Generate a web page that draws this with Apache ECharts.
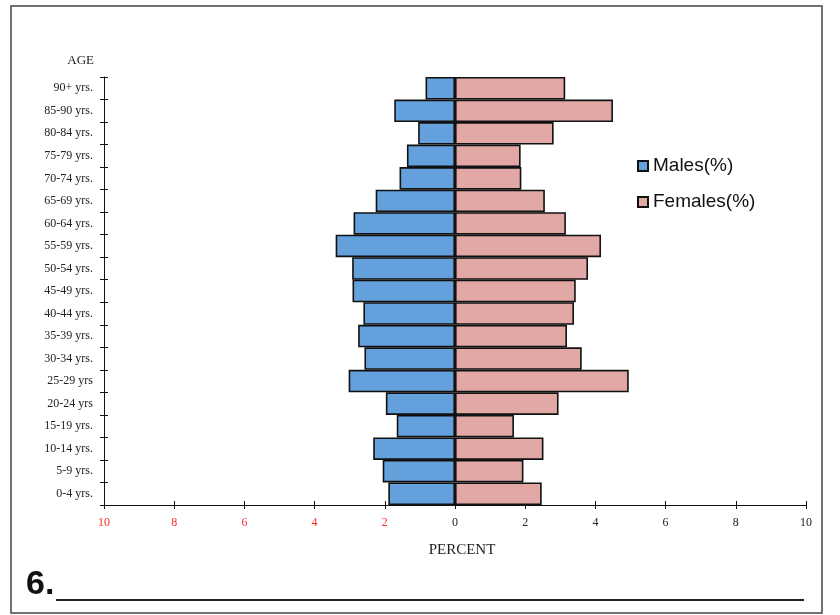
<!DOCTYPE html>
<html>
<head>
<meta charset="utf-8">
<script src="https://cdn.jsdelivr.net/npm/echarts@6/dist/echarts.min.js"></script>
<style>html,body{margin:0;padding:0;background:#fff;}#chart{width:840px;height:615px;}</style>
</head>
<body>
<div id="chart"></div>
<script>
var categories = ["0-4 yrs.","5-9 yrs.","10-14 yrs.","15-19 yrs.","20-24 yrs","25-29 yrs","30-34 yrs.","35-39 yrs.","40-44 yrs.","45-49 yrs.","50-54 yrs.","55-59 yrs.","60-64 yrs.","65-69 yrs.","70-74 yrs.","75-79 yrs.","80-84 yrs.","85-90 yrs.","90+ yrs."];
var males = [1.90,2.06,2.33,1.66,1.97,3.03,2.58,2.76,2.61,2.92,2.93,3.40,2.89,2.26,1.58,1.37,1.05,1.73,0.84];
var females = [2.47,1.95,2.52,1.68,2.95,4.95,3.61,3.19,3.39,3.44,3.79,4.16,3.16,2.56,1.89,1.87,2.81,4.50,3.14];
var xTicks = [-10,-8,-6,-4,-2,0,2,4,6,8,10];

var chart = echarts.init(document.getElementById('chart'), null, {renderer:'canvas'});
var serif = '"Liberation Serif","Times New Roman",serif';
var sans = '"Liberation Sans",Arial,sans-serif';
var W = 840, H = 615;
var grid = {left:104, right:34, top:77, bottom:110};
var gridW = W - grid.left - grid.right, gridH = H - grid.top - grid.bottom;
chart.setOption({
  animation:false,
  backgroundColor:'#fff',
  grid:grid,
  legend:{
    orient:'vertical', left:637, top:156, padding:0, icon:'rect', itemWidth:10, itemHeight:10, itemGap:16,
    textStyle:{fontFamily:sans, fontSize:19, color:'#111', lineHeight:20},
    data:['Males(%)','Females(%)']
  },
  xAxis:[{
    type:'value', min:xTicks[0], max:xTicks[xTicks.length-1], interval:2, position:'bottom',
    splitLine:{show:false},
    axisLine:{show:true, onZero:false, lineStyle:{color:'#111', width:1}},
    axisTick:{show:true, length:4, lineStyle:{color:'#111'}},
    axisLabel:{margin:12, fontFamily:serif, fontSize:12,
      formatter:function(v){ return v<0 ? '{r|'+Math.abs(v)+'}' : '{k|'+v+'}'; },
      rich:{r:{color:'#ff2a2a', fontFamily:serif, fontSize:12}, k:{color:'#222', fontFamily:serif, fontSize:12}}
    },
    name:'PERCENT', nameLocation:'middle', nameGap:38,
    nameTextStyle:{fontFamily:serif, fontSize:15, color:'#222', padding:[0,0,0,14]}
  },{
    type:'value', min:xTicks[0], max:xTicks[xTicks.length-1], interval:2, position:'top', offset:-gridH,
    splitLine:{show:false}, axisLine:{show:false, onZero:false},
    axisTick:{show:true, inside:false, length:4, lineStyle:{color:'#111'}},
    axisLabel:{show:false}
  }],
  yAxis:[{
    type:'category', data:categories, position:'left',
    axisLine:{show:true, onZero:false, lineStyle:{color:'#111', width:1}},
    axisTick:{show:true, length:4, alignWithLabel:false, lineStyle:{color:'#111'}},
    axisLabel:{margin:11, fontFamily:serif, fontSize:12, color:'#222'},
    name:'AGE', nameLocation:'end', nameGap:10,
    nameTextStyle:{fontFamily:serif, fontSize:13, color:'#222', align:'right', padding:[0,10,0,0]}
  },{
    type:'category', data:categories, position:'right', offset:-gridW,
    axisLine:{show:false, onZero:false},
    axisTick:{show:true, inside:false, length:4, lineStyle:{color:'#111'}},
    axisLabel:{show:false}
  }],
  series:[{
    name:'Males(%)', type:'bar', xAxisIndex:0, yAxisIndex:0,
    data:males.map(function(v){return -v;}),
    barCategoryGap:0, barGap:'-100%',
    itemStyle:{color:'#63a0dc', borderColor:'#111', borderWidth:1.6}
  },{
    name:'Females(%)', type:'bar', xAxisIndex:0, yAxisIndex:0,
    data:females,
    barCategoryGap:0, barGap:'-100%',
    itemStyle:{color:'#e1a8a6', borderColor:'#111', borderWidth:1.6}
  }],
  graphic:[
    {type:'rect', shape:{x:11, y:6, width:811, height:607}, style:{fill:'none', stroke:'#444', lineWidth:1.5}, silent:true},
    {type:'line', shape:{x1:56, y1:600, x2:804, y2:600}, style:{stroke:'#222', lineWidth:2}, silent:true},
    {type:'text', left:26, top:568, style:{text:'6.', font:'bold 34px "Liberation Sans", Arial, sans-serif', fill:'#111'}, silent:true}
  ]
});
</script>
</body>
</html>
